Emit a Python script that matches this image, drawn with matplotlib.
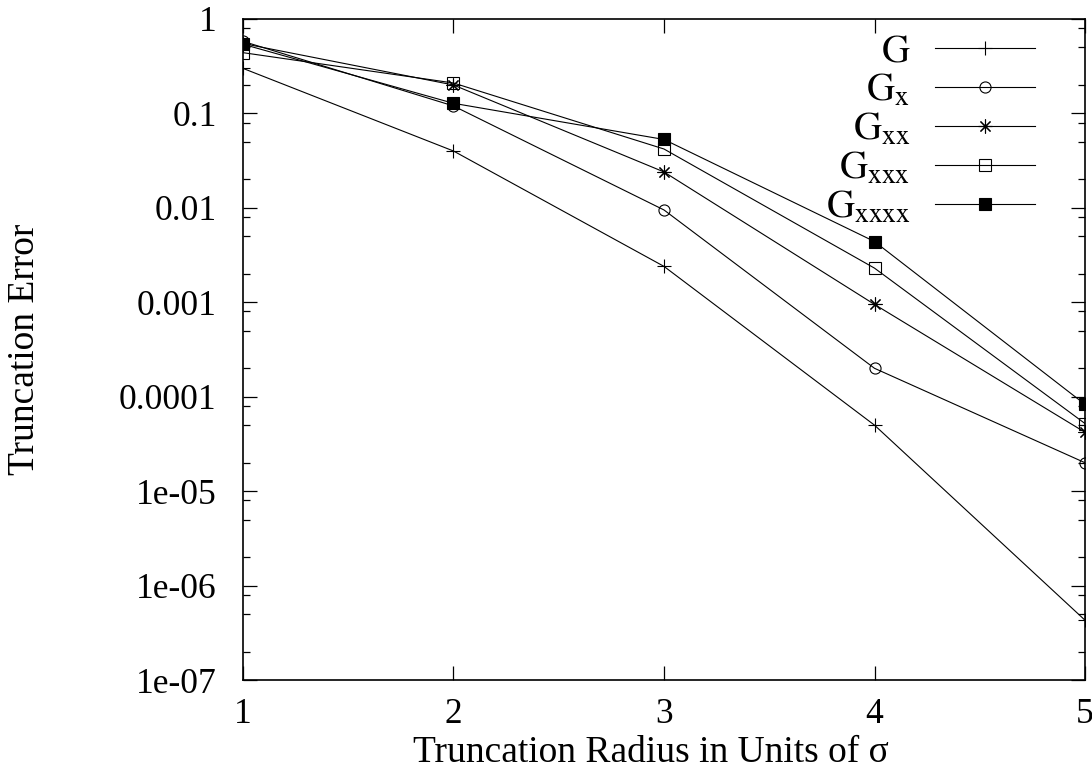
import numpy as np
import matplotlib
matplotlib.use("Agg")
from matplotlib import pyplot as plt
from matplotlib.ticker import FixedLocator, FixedFormatter, LogLocator, NullFormatter

plt.rcParams['font.family'] = ['Liberation Serif', 'DejaVu Serif']
plt.rcParams['mathtext.fontset'] = 'stix'

radius = [1, 2, 3, 4, 5]
err_g = [0.30, 0.040, 0.0024, 5.0e-5, 4.3e-7]
err_gx = [0.58, 0.12, 0.0095, 2.0e-4, 2.0e-5]
err_gxx = [0.55, 0.20, 0.024, 9.5e-4, 4.2e-5]
err_gxxx = [0.44, 0.21, 0.042, 0.0023, 5.2e-5]
err_gxxxx = [0.54, 0.128, 0.053, 0.0044, 8.3e-5]

labels = [r'$\mathrm{G}$', r'$\mathrm{G_x}$', r'$\mathrm{G_{xx}}$',
          r'$\mathrm{G_{xxx}}$', r'$\mathrm{G_{xxxx}}$']
ytick_vals = [1, 0.1, 0.01, 0.001, 0.0001, 1e-5, 1e-6, 1e-7]
ytick_text = ['1', '0.1', '0.01', '0.001', '0.0001', '1e-05', '1e-06', '1e-07']

fig = plt.figure(figsize=(10.92, 7.69), dpi=100)
ax = fig.add_axes([0.2225, 0.1157, 0.7711, 0.8596])

lw = 0.8
ax.plot(radius, err_g, color='black', lw=lw, marker='+', ms=10, mew=0.8, label=labels[0])
ax.plot(radius, err_gx, color='black', lw=lw, marker='o', ms=8, mfc='none', mew=0.8, label=labels[1])
ax.plot(radius, err_gxx, color='black', lw=lw, marker=(8, 2, 0), ms=10, mew=0.8, label=labels[2])
ax.plot(radius, err_gxxx, color='black', lw=lw, marker='s', ms=8, mfc='none', mew=0.8, label=labels[3])
ax.plot(radius, err_gxxxx, color='black', lw=lw, marker='s', ms=8, mfc='black', mew=0.8, label=labels[4])

ax.set_yscale('log')
ax.set_xlim(1, 5)
ax.set_ylim(1e-7, 1)
ax.set_xticks(radius)
ax.set_xticklabels([str(r) for r in radius])
ax.yaxis.set_major_locator(FixedLocator(ytick_vals))
ax.yaxis.set_major_formatter(FixedFormatter(ytick_text))
ax.yaxis.set_minor_locator(LogLocator(base=10, subs=[2, 5, 8]))
ax.yaxis.set_minor_formatter(NullFormatter())

ax.tick_params(which='both', direction='in', top=True, right=True, width=0.9, labelsize=25.5)
ax.tick_params(axis='y', pad=19)
ax.tick_params(axis='x', pad=13)
ax.tick_params(which='major', length=10)
ax.tick_params(which='minor', length=5)
for s in ax.spines.values():
    s.set_linewidth(1.2)

ax.set_xlabel('Truncation Radius in Units of σ', fontsize=27)
ax.xaxis.set_label_coords(0.485, -0.084)
ax.set_ylabel('Truncation Error', fontsize=27)
ax.yaxis.set_label_coords(-0.239, 0.5)

leg = ax.legend(loc='upper right', bbox_to_anchor=(0.9406, 0.978), frameon=False, markerfirst=False,
                fontsize=28, handlelength=2.57, labelspacing=0.05, handletextpad=0.64,
                borderaxespad=0.0, borderpad=0.0)
for t in leg.get_texts():
    t.set_ha('right')

fig.savefig('out.png', dpi=100)
